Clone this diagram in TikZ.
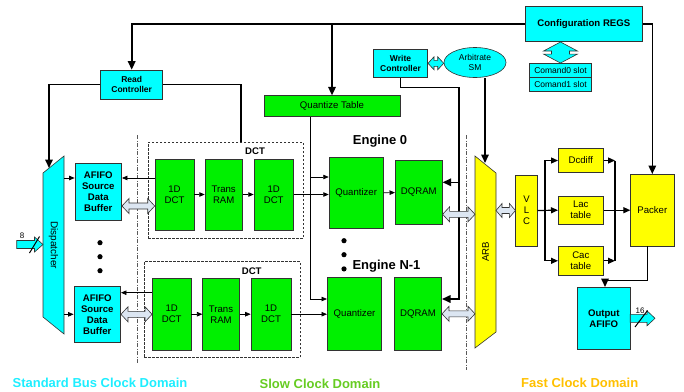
\documentclass[tikz,border=0pt]{standalone}
\usepackage{fontspec}
\setmainfont{Liberation Sans}
\usepackage{xcolor}
\usetikzlibrary{calc, positioning, arrows.meta, shapes.geometric}
\definecolor{blkgreen}{HTML}{00F000}
\definecolor{blkcyan}{HTML}{00FFFF}
\definecolor{blkyellow}{HTML}{FFFF00}
\definecolor{busgray}{HTML}{DCE6F2}
\definecolor{edgegray}{HTML}{333333}
\definecolor{stdcyan}{HTML}{1EEEFF}
\definecolor{slowgreen}{HTML}{66CC22}
\definecolor{fastgold}{HTML}{FFC000}

% hollow double arrow: [opts]{from}{to}{head length}{head half width}{shaft half width}
\newcommand{\busarrow}[6][]{%
  \draw[hollow,#1] let \p1=#2, \p2=#3 in
    (\x1,\y1) -- (\x1+#4,\y1+#5) -- (\x1+#4,\y1+#6) -- (\x2-#4,\y1+#6)
    -- (\x2-#4,\y1+#5) -- (\x2,\y1) -- (\x2-#4,\y1-#5) -- (\x2-#4,\y1-#6)
    -- (\x1+#4,\y1-#6) -- (\x1+#4,\y1-#5) -- cycle;}
\newcommand{\vbusarrow}[6][]{%
  \draw[hollow,#1] let \p1=#2, \p2=#3 in
    (\x1,\y1) -- (\x1+#5,\y1-#4) -- (\x1+#6,\y1-#4) -- (\x1+#6,\y2+#4)
    -- (\x1+#5,\y2+#4) -- (\x1,\y2) -- (\x1-#5,\y2+#4) -- (\x1-#6,\y2+#4)
    -- (\x1-#6,\y1-#4) -- (\x1-#5,\y1-#4) -- cycle;}
% one-way bus arrow
\newcommand{\portarrow}[6][]{%
  \draw[hollow,#1] let \p1=#2, \p2=#3 in
    (\x1,\y1+#6) -- (\x2-#4,\y1+#6) -- (\x2-#4,\y1+#5) -- (\x2,\y1)
    -- (\x2-#4,\y1-#5) -- (\x2-#4,\y1-#6) -- (\x1,\y1-#6) -- cycle;}

\begin{document}
\begin{tikzpicture}[x=1pt, y=-1pt,
    wh/.style 2 args={minimum width=#1pt, minimum height=#2pt},
    blk/.style={draw=edgegray, line width=0.6pt, inner sep=0pt, align=center,
                font=\fontsize{9.6}{11}\selectfont},
    engine/.style={blk, fill=blkgreen},
    ctrl/.style={blk, fill=blkcyan, font=\fontsize{9.6}{11}\selectfont\bfseries},
    fast/.style={blk, fill=blkyellow},
    dctframe/.style={draw=edgegray, dash pattern=on 2.5pt off 1.5pt,
                     line width=0.6pt, inner sep=0pt},
    hollow/.style={draw=edgegray, line width=0.6pt, fill=busgray, line join=miter},
    sig/.style={line width=0.7pt, -{Triangle[length=5.5pt,width=4.5pt]}},
    mid/.style={line width=1.2pt, -{Triangle[length=7pt,width=6pt]}},
    bus/.style={line width=1.6pt, -{Triangle[length=8.5pt,width=7.5pt]}},
    rail/.style={line width=1.6pt},
    sepline/.style={dash pattern=on 4pt off 1.5pt on 1pt off 1.5pt,
                    draw=gray!70!black, line width=0.6pt},
    bigtext/.style={font=\fontsize{13}{15}\selectfont\bfseries},
]
    \useasboundingbox (0,0) rectangle (684,391);

    % Domain separators
    \draw[sepline] (137,135) -- (137,363);
    \draw[sepline] (466.7,135) -- (466.7,370);

    % Control nodes
    \node[ctrl, wh={117}{35}] (config) at (583.8,24.2) {Configuration REGS};
    \node[ctrl, wh={62}{29}, font=\fontsize{8.5}{10}\selectfont\bfseries]
        (readctl) at (131.7,84.5) {Read\\Controller};
    \node[ctrl, wh={54.4}{28}, font=\fontsize{8.5}{10}\selectfont\bfseries]
        (writectl) at (400.5,63.3) {Write\\Controller};
    \node[ellipse, draw=edgegray, line width=0.6pt, fill=blkcyan, inner sep=0pt,
          wh={62}{30}, align=center, font=\fontsize{8.5}{10}\selectfont]
        (arbsm) at (475,62.5) {Arbitrate\\SM};
    \node[blk, fill=blkcyan, wh={62.4}{14.3}, font=\fontsize{8.5}{10}\selectfont]
        (cmd0) at (560.5,70.5) {Comand0 slot};
    \node[blk, fill=blkcyan, wh={62.4}{14}, font=\fontsize{8.5}{10}\selectfont]
        (cmd1) at (560.5,84.7) {Comand1 slot};
    \node[engine, wh={136}{21}] (qtable) at (332,106.2) {Quantize Table};

    % Dispatcher and ARB
    \draw[draw=edgegray, line width=0.6pt, fill=blkcyan]
        (43,173) -- (64,156) -- (64,334) -- (43,317) -- cycle;
    \node[rotate=-90, font=\fontsize{10}{11}\selectfont] (disp) at (53.5,245) {Dispatcher};
    \coordinate (disp-in) at (49,168);
    \coordinate (disp-w) at (43,0);
    \coordinate (disp-e) at (64,0);
    \draw[draw=edgegray, line width=0.6pt, fill=blkyellow]
        (475,156) -- (496,173) -- (496,332) -- (475,348) -- cycle;
    \node[rotate=90, font=\fontsize{9.6}{11}\selectfont] (arb) at (485.5,252) {ARB};
    \coordinate (arb-in) at (485,163);
    \coordinate (arb-w) at (475,0);
    \coordinate (arb-e) at (496,0);

    % Source buffers
    \node[ctrl, wh={46.7}{57}] (afifo0) at (98.3,191.5) {AFIFO\\Source\\Data\\Buffer};
    \node[ctrl, wh={46.7}{56.7}] (afifoN) at (97.3,314.3) {AFIFO\\Source\\Data\\Buffer};

    % DCT engines
    \node[dctframe, wh={155}{96}] (dctbox0) at (225.5,190) {};
    \node[font=\fontsize{9.6}{11}\selectfont\bfseries] (dctlbl0) at (255,150.7) {DCT};
    \node[engine, wh={39}{71}]   (dct0a) at (174.5,194.5) {1D\\DCT};
    \node[engine, wh={37.3}{71}] (tram0) at (223.7,194.5) {Trans\\RAM};
    \node[engine, wh={39.3}{71}] (dct0b) at (273.7,194.5) {1D\\DCT};

    \node[dctframe, wh={155.7}{96}] (dctboxN) at (222.2,309.7) {};
    \node[font=\fontsize{9.6}{11}\selectfont\bfseries] (dctlblN) at (251.7,270.7) {DCT};
    \node[engine, wh={38.7}{71.7}] (dctNa) at (171.7,314.2) {1D\\DCT};
    \node[engine, wh={36.6}{71.7}] (tramN) at (221,314.2) {Trans\\RAM};
    \node[engine, wh={40}{71.7}]   (dctNb) at (271,314.2) {1D\\DCT};

    \node[engine, wh={54.3}{71}]   (quant0) at (356.2,192.8) {Quantizer};
    \node[engine, wh={47}{63.6}]   (dqram0) at (418.8,192.5) {DQRAM};
    \node[engine, wh={54.4}{72.7}] (quantN) at (354.5,313.7) {Quantizer};
    \node[engine, wh={47.4}{72.3}] (dqramN) at (418,313.8) {DQRAM};

    \node[bigtext] (eng0) at (380,140.7) {Engine 0};
    \node[bigtext] (engN) at (386.5,266) {Engine N-1};

    % Fast domain
    \node[fast, wh={21.6}{71}]   (vlc)    at (526.5,210.5) {V\\L\\C};
    \node[fast, wh={45}{24.4}]   (dcdiff) at (580.8,160.5) {Dcdiff};
    \node[fast, wh={45}{28.3}]   (lac)    at (580.8,210.2) {Lac\\table};
    \node[fast, wh={45}{28.3}]   (cac)    at (580.8,260.8) {Cac\\table};
    \node[fast, wh={43.3}{71.7}] (packer) at (652.3,210.2) {Packer};
    \node[ctrl, wh={52.3}{62}]   (outafifo) at (603.8,318.3) {Output\\AFIFO};

    % Dots
    \foreach \y in {242.7, 256.7, 270.7}
        \fill (100,\y) circle[radius=2.6pt];
    \foreach \y in {240.7, 254.7, 268.9}
        \fill (344,\y) circle[radius=2.6pt];

    % Control buses
    \draw[bus] (config.west) -| (readctl.north);
    \draw[bus] (config.west -| qtable.north) -- (qtable.north);
    \draw[bus] (config.east) -| (packer.north);
    \draw[bus] (readctl.west) -| (disp-in);
    \draw[rail] (readctl.east) -| ($(dctbox0.north)+(15.2,0)$);
    \coordinate (wbus) at (459,87.3);
    \draw[bus] (writectl.south) |- (wbus) |- ($(dqramN.east)+(0,-14.8)$);
    \coordinate (w0) at ($(dqram0.east)+(0,-10.2)$);
    \draw[bus] (w0 -| wbus) -- (w0);
    \draw[bus] (arb-in |- arbsm.south) -- (arb-in);
    \draw[bus] ($(packer.south)+(-5,0)$) -- ++(0,34) -| ($(outafifo.north)+(1.2,0)$);

    % Quantize table taps
    \draw[sig] ($(qtable.south)+(-21.3,0)$) |- ($(quantN.west)+(0,-14.7)$);
    \draw[sig] ($(qtable.south)+(-21.3,0)$) |- ($(quant0.west)+(0,-15.8)$);

    % Data path, engine 0
    \coordinate (d0) at (64,178);
    \draw[sig] (d0) -- (d0 -| afifo0.west);
    \draw[sig] ($(dct0a.west)+(0,-16.5)$) -- ($(afifo0.east)+(0,-13.5)$);
    \draw[sig] (dct0a) -- (tram0);
    \draw[sig] (tram0) -- (dct0b);
    \draw[sig] (dct0b.east) -- (dct0b.east -| quant0.west);
    \draw[sig] (quant0) -- (dqram0);

    % Data path, engine N-1
    \coordinate (dN) at (64,314.3);
    \draw[sig] (dN) -- (dN -| afifoN.west);
    \draw[sig] ($(dctNa.west)+(0,-21.5)$) -- ($(afifoN.east)+(0,-21.6)$);
    \draw[sig] (dctNa) -- (tramN);
    \draw[sig] (tramN) -- (dctNb);
    \draw[sig] (dctNb.east) -- (dctNb.east -| quantN.west);

    % VLC fan out
    \coordinate (vtrunk) at (545,0);
    \coordinate (ptrunk) at (615,0);
    \draw[mid] (vlc.east) -- (lac.west);
    \draw[mid] (vlc.east -| vtrunk) |- (dcdiff.west);
    \draw[mid] (vlc.east -| vtrunk) |- (cac.west);
    \draw[mid] (dcdiff.east) -- (dcdiff.east -| ptrunk);
    \draw[mid] (cac.east) -- (cac.east -| ptrunk);
    \draw[line width=1.2pt] (dcdiff.east -| ptrunk) -- (cac.east -| ptrunk);
    \draw[mid] (lac.east) -- (packer.west);

    % Hollow buses
    \busarrow{($(afifo0.east)+(0,14.5)$)}{($(dct0a.west)+(0,11.5)$)}{7pt}{7.5pt}{3pt}
    \busarrow{(afifoN.east)}{(dctNa.west)}{7pt}{7.5pt}{3pt}
    \busarrow{($(dqram0.east)+(0,21.8)$)}{(arb-w)}{7pt}{7.5pt}{3pt}
    \busarrow{(dqramN.east)}{(arb-w)}{7pt}{7.5pt}{3pt}
    \busarrow{(arb-e |- vlc.west)}{(vlc.west)}{6pt}{7pt}{3pt}
    \busarrow[fill=blkcyan]{(writectl.east)}{(arbsm.west)}{6pt}{6.5pt}{3pt}
    \vbusarrow[fill=blkcyan]{(cmd0.north |- config.south)}{(cmd0.north)}{9pt}{17pt}{9pt}

    % Ports
    \portarrow[fill=blkcyan]{(16.7,244.5)}{(disp-w)}{8.5pt}{7.5pt}{4pt}
    \draw[line width=1pt] (29.5,253) -- (39.5,236.5);
    \node[font=\fontsize{8}{9}\selectfont] (lbl8) at (22,236) {8};
    \portarrow[fill=blkcyan]{(outafifo.east)}{(655,0)}{8pt}{7.5pt}{4pt}
    \draw[line width=1pt] (635,327) -- (647.5,310.5);
    \node[font=\fontsize{8}{9}\selectfont] (lbl16) at (640,311) {16};

    % Clock domains
    \node[bigtext, text=stdcyan]   (stddom)  at (100,382.7)   {Standard Bus Clock Domain};
    \node[bigtext, text=slowgreen] (slowdom) at (320,384)     {Slow Clock Domain};
    \node[bigtext, text=fastgold]  (fastdom) at (579.7,382.7) {Fast Clock Domain};
\end{tikzpicture}
\end{document}
